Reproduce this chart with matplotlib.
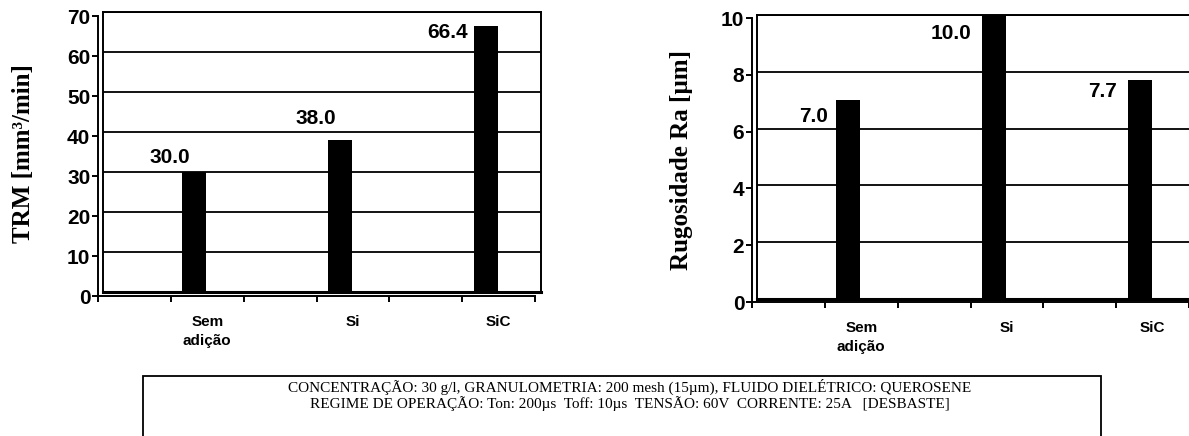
import matplotlib.pyplot as plt
from matplotlib.patches import Rectangle

# data
categories = ['Sem\nadição', 'Si', 'SiC']
cat_pos = [1.5, 3.5, 5.5]
trm = [30.0, 38.0, 66.4]
rugosidade = [7.0, 10.0, 7.7]

W, H = 1189, 436
fig = plt.figure(figsize=(W / 100, H / 100), dpi=100)

sans = 'Liberation Sans'
serif = 'Liberation Serif'


def box(x0, x1, y0, y1):
    # pixel box (top-left origin) -> figure fraction rect
    return [x0 / W, 1 - y1 / H, (x1 - x0) / W, (y1 - y0) / H]


def make_chart(back, front, values, ymax, ystep, ylabel, label_off, title_xy):
    # back wall with gridlines
    ab = fig.add_axes(box(*back))
    ab.set_xlim(0, 6)
    ab.set_ylim(0, ymax)
    ab.set_xticks([])
    ab.set_yticks(range(0, ymax + 1, ystep))
    ab.tick_params(left=False, labelleft=False)
    ab.grid(axis='y', color='black', lw=1.3)
    for s in ab.spines.values():
        s.set_linewidth(1.4)
    ab.spines['bottom'].set_linewidth(2.2)
    ab.set_axisbelow(True)

    bx = [p - 0.25 for p in cat_pos]
    ab.bar(bx, values, width=0.33, color='black', zorder=3)
    for x, v, (dx, dy) in zip(bx, values, label_off):
        ab.annotate(f'{v:.1f}', (x, v), xytext=(dx * 0.72, dy * 0.72),
                    textcoords='offset points', ha='center', va='center',
                    fontsize=15, fontweight='bold', family=sans,
                    annotation_clip=False, zorder=4)

    # front axis lines with ticks and labels
    af = fig.add_axes(box(*front))
    af.patch.set_visible(False)
    af.set_xlim(0, 6)
    af.set_ylim(0, ymax)
    for s in ('top', 'right'):
        af.spines[s].set_visible(False)
    af.spines['left'].set_linewidth(1.4)
    af.spines['bottom'].set_linewidth(1.4)
    af.set_yticks(range(0, ymax + 1, ystep))
    af.set_xticks(range(7))
    af.set_xticklabels([])
    af.set_xticks(cat_pos, categories, minor=True)
    af.tick_params(axis='both', which='major', direction='out', length=4.5,
                   width=1.4, labelsize=15, pad=1)
    af.tick_params(axis='x', which='minor', length=0, pad=14, labelsize=11)
    for t in af.get_yticklabels():
        t.set_fontweight('bold')
        t.set_family(sans)
    for t in af.get_xticklabels(minor=True):
        t.set_fontweight('bold')
        t.set_family(sans)
        t.set_linespacing(1.45)

    fig.text(title_xy[0] / W, 1 - title_xy[1] / H, ylabel, rotation=90,
             ha='center', va='center', fontsize=18, fontweight='bold',
             family=serif)


make_chart((103, 541, 12, 292), (98, 535, 16, 296), trm, 70, 10,
           'TRM [mm³/min]',
           [(-24, 15), (-24, 22), (-39, -6)], (24, 154))
make_chart((757, 1195, 15, 299), (752, 1189, 18, 302), rugosidade, 10, 2,
           'Rugosidade Ra [µm]',
           [(-35, -16), (-43, -18), (-38, -11)], (682, 160))

# conditions box at the bottom
fig.patches.append(Rectangle((143 / W, -0.05), (1101 - 143) / W,
                             0.05 + 1 - 376 / H, transform=fig.transFigure,
                             fill=False, lw=1.3, ec='black'))
fig.text(630 / W, 1 - 387 / H,
         'CONCENTRAÇÃO: 30 g/l, GRANULOMETRIA: 200 mesh (15µm), FLUIDO DIELÉTRICO: QUEROSENE',
         ha='center', va='center', fontsize=11, family=serif)
fig.text(630 / W, 1 - 404 / H,
         'REGIME DE OPERAÇÃO: Ton: 200µs  Toff: 10µs  TENSÃO: 60V  CORRENTE: 25A   [DESBASTE]',
         ha='center', va='center', fontsize=11, family=serif)

fig.savefig('out.png', dpi=100)
